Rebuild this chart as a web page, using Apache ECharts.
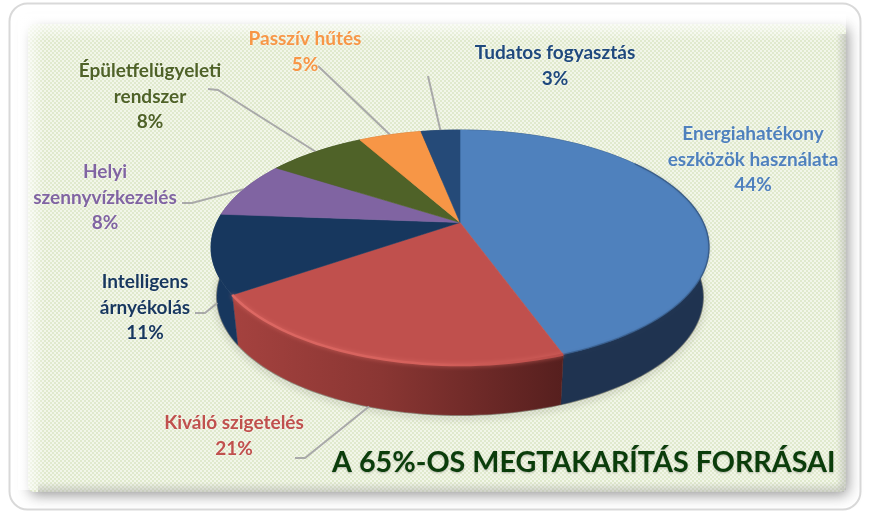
<!DOCTYPE html>
<html><head><meta charset="utf-8">
<style>html,body{margin:0;padding:0;background:#fff}#c{width:870px;height:525px}</style>
<script src="https://cdn.jsdelivr.net/npm/echarts@6/dist/echarts.min.js"></script>
</head><body><div id="c"></div>
<script>
const sliceLabels = [
  ['Energiahatékony','eszközök használata'],
  ['Kiváló szigetelés'],
  ['Intelligens','árnyékolás'],
  ['Helyi','szennyvízkezelés'],
  ['Épületfelügyeleti','rendszer'],
  ['Passzív hűtés'],
  ['Tudatos fogyasztás']
];
const sliceValues = [44.49, 20.9, 10.8, 7.9, 7.8, 5.0, 3.11];
const titleText = 'A 65%-OS MEGTAKARÍTÁS FORRÁSAI';

// styles
const topColors  = ['#4f81bd','#c0504d','#17375e','#8064a2','#4f6228','#f79646','#254a78'];
const textColors = ['#4f81bd','#c0504d','#17375e','#8064a2','#4f6228','#f79646','#1f497d'];
const wallColors = ['#1f3350',null,'#17375e','#5f4a7a','#3a4a1e','#b56d30','#1c3759'];
// layout: label centre (x, first line y) and leader-line elbow
const labelPos = [[753,134],[234,423],[145,282],[105,172],[150,71],[305,39],[555,53]];
const leaderTail = [null,[[295,458],[305,458]],[[195,313],[205,313]],[[182,203],[192,203]],[[208,89],[218,90]],[[318,66]],[[428,76]]];
const LINE_H = 25.5;
const pie = {cx:460, cy:247.5, rx:249, ry:117.5, c:-0.213, depth:49.5, rxB:243, ryB:118};

function project(pct, bottom){
  const phi = pct/100*2*Math.PI, v = Math.sin(phi), u = -Math.cos(phi);
  const rx = bottom ? pie.rxB : pie.rx, ry = bottom ? pie.ryB : pie.ry, cy = pie.cy + (bottom ? pie.depth : 0);
  const den = pie.c*u + 1, d = rx*Math.sqrt(1-pie.c*pie.c);
  return [pie.cx + d*v/den, cy + ry*(u+pie.c)/den];
}
function arc(a,b,bottom){
  const n = Math.max(4,Math.ceil((b-a)*2)), pts=[];
  for(let i=0;i<=n;i++) pts.push(project(a+(b-a)*i/n,bottom));
  return pts;
}
function renderItem(params, api){
  const i = params.dataIndex, a = api.value(0), b = api.value(1), children=[];
  const topArc = arc(a,b,false), botArc = arc(a,b,true);
  const centre = [pie.cx, pie.cy + pie.ry*pie.c];
  // soft floor shadow
  children.push({type:'polyline',z2:1,shape:{points:botArc},
    style:{fill:null,stroke:'rgba(90,90,80,.55)',lineWidth:2,shadowBlur:7,shadowColor:'rgba(60,60,50,.8)',shadowOffsetY:2}});
  // wall
  const wallFill = i===1
    ? {type:'linear',x:0,y:0,x2:1,y:0,colorStops:[{offset:0,color:'#a5423f'},{offset:.45,color:'#8a3633'},{offset:1,color:'#561f1e'}]}
    : wallColors[i];
  children.push({type:'polygon',z2:2,shape:{points:topArc.concat(botArc.slice().reverse())},
    style:{fill:wallFill,stroke:wallFill,lineWidth:.5}});
  // top
  children.push({type:'polygon',z2:10,shape:{points:[centre].concat(topArc)},
    style:{fill:topColors[i],stroke:topColors[i],lineWidth:.6}});
  // bevel on the highlighted slice
  if(i===1){
    children.push({type:'polyline',z2:11,shape:{points:topArc},
      style:{fill:null,lineWidth:2.5,shadowBlur:4,shadowColor:'rgba(222,106,100,.8)',
        stroke:{type:'linear',x:0,y:0,x2:1,y:0,colorStops:[{offset:0,color:'#de6964'},{offset:.6,color:'#d4605b'},{offset:1,color:'#bb4d4a'}]}}});
  }
  if(i===0){
    children.push({type:'polyline',z2:11,shape:{points:arc(a+15,b,false)},
      style:{fill:null,lineWidth:1.5,stroke:'rgba(40,70,110,.5)',shadowBlur:3,shadowColor:'rgba(40,70,110,.5)'}});
  }
  // leader
  const mid=(a+b)/2, tail = leaderTail[i];
  if(tail){
    const front = -Math.cos(mid/100*2*Math.PI) > 0;
    const end = project(mid,front);
    children.push({type:'polyline',z2:5,shape:{points:tail.concat([end])},
      style:{fill:null,stroke:'#a9a9a9',lineWidth:2}});
  }
  // text
  const lines = sliceLabels[i].concat([Math.round(api.value(2))+'%']);
  lines.forEach((t,k)=>children.push({type:'text',z2:20,style:{
    text:t,x:labelPos[i][0],y:labelPos[i][1]+k*LINE_H,align:'center',verticalAlign:'middle',
    fill:textColors[i],font:'bold 19px Lato',textShadowColor:'rgba(255,255,255,.6)',textShadowBlur:2}}));
  return {type:'group',children};
}
let acc=0;
const spans = sliceValues.map(v=>{const s=[acc,acc+v,v];acc+=v;return s;});

// texture
const tex=document.createElement('canvas');tex.width=tex.height=4;
const g=tex.getContext('2d');g.fillStyle='#f2f6e9';g.fillRect(0,0,4,4);
g.fillStyle='#e0e9cd';g.fillRect(0,0,2,2);g.fillRect(2,2,2,2);

const P={x:28,y:24,w:818,h:468};
const lin=(x,y,x2,y2,c0,c1)=>({type:'linear',x,y,x2,y2,colorStops:[{offset:0,color:c0},{offset:1,color:c1}]});
const bg=[
 {type:'rect',z:0,shape:{x:9.5,y:3.5,width:851,height:506,r:18},style:{fill:'#fff',stroke:'#d9d9d9',lineWidth:2}},
 {type:'rect',z:1,shape:{x:P.x,y:P.y,width:P.w,height:P.h,r:6},style:{fill:{image:tex,repeat:'repeat'},shadowBlur:14,shadowColor:'rgba(80,80,80,.6)',shadowOffsetX:2,shadowOffsetY:3}},
 {type:'rect',z:2,shape:{x:P.x-8,y:P.y-10,width:P.w+8,height:26},style:{fill:lin(0,0,0,1,'#ffffff','rgba(255,255,255,0)')}},
 {type:'rect',z:2,shape:{x:P.x-10,y:P.y-10,width:26,height:P.h+8},style:{fill:lin(0,0,1,0,'#ffffff','rgba(255,255,255,0)')}},
 {type:'rect',z:2,shape:{x:P.x+P.w-10,y:P.y+10,width:10,height:P.h-12},style:{fill:lin(0,0,1,0,'rgba(170,170,170,0)','rgba(170,170,170,.5)')}},
 {type:'rect',z:2,shape:{x:P.x+10,y:P.y+P.h-10,width:P.w-12,height:10},style:{fill:lin(0,0,0,1,'rgba(170,170,170,0)','rgba(170,170,170,.5)')}}
];
const chart=echarts.init(document.getElementById('c'),null,{renderer:'canvas'});
chart.setOption({
  animation:false,
  title:{text:titleText,left:327,top:443,textStyle:{fontFamily:'Lato',fontWeight:'bold',fontSize:28.7,color:'#0b3d0b',textShadowColor:'rgba(0,0,0,.25)',textShadowBlur:2,textShadowOffsetY:1}},
  graphic:{elements:bg},
  series:[{type:'custom',coordinateSystem:'none',z:5,data:spans,renderItem,clip:false,silent:true}]
});
</script></body></html>
